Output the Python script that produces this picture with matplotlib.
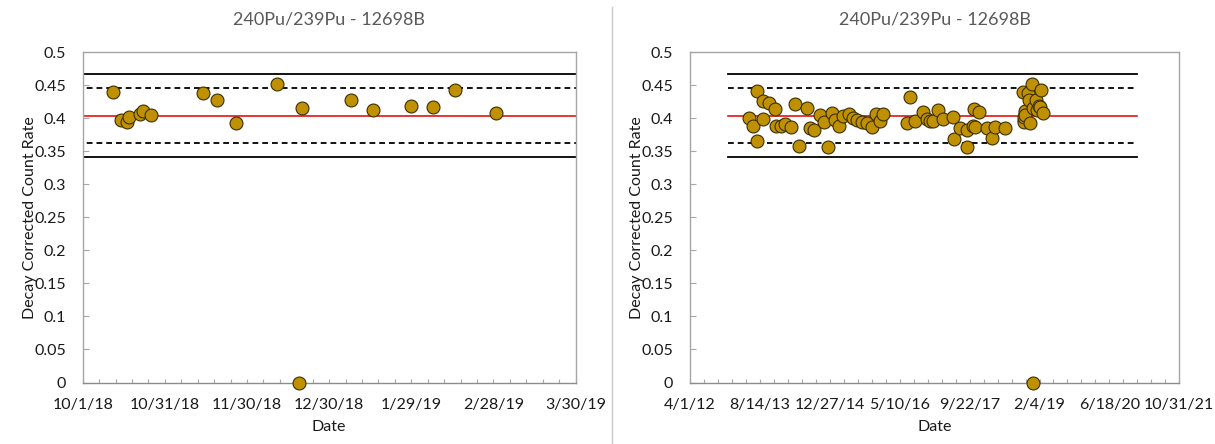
import datetime as dt
import matplotlib
matplotlib.use("Agg")
import matplotlib.pyplot as plt
import matplotlib.dates as mdates
from matplotlib.lines import Line2D
from matplotlib.ticker import FixedLocator, FuncFormatter

plt.rcParams['font.family'] = ['Lato', 'DejaVu Sans']

TITLE = "240Pu/239Pu - 12698B"
Y_LABEL = "Decay Corrected Count Rate"
X_LABEL = "Date"

# Recent measurements (Oct 2018 - Mar 2019)
recent_dates = [
    "2018-10-12", "2018-10-15", "2018-10-17", "2018-10-18", "2018-10-22",
    "2018-10-23", "2018-10-26", "2018-11-14", "2018-11-19", "2018-11-26",
    "2018-12-11", "2018-12-19", "2018-12-20", "2019-01-07", "2019-01-15",
    "2019-01-29", "2019-02-06", "2019-02-14", "2019-03-01",
]
recent_values = [
    0.4395, 0.3973, 0.3942, 0.4023, 0.4068,
    0.4118, 0.4058, 0.4386, 0.4276, 0.3927,
    0.4518, 0.0, 0.4164, 0.4276, 0.4124,
    0.4185, 0.4170, 0.4427, 0.4083,
]

# Historical measurements (2013 - mid 2018)
history_dates = [
    "2013-05-28", "2013-06-23", "2013-07-22", "2013-07-27", "2013-09-07",
    "2013-09-03", "2013-10-18", "2013-11-30", "2013-12-07", "2014-01-10",
    "2014-02-10", "2014-03-24", "2014-04-22", "2014-05-23", "2014-07-15",
    "2014-08-07", "2014-09-07", "2014-10-18", "2014-11-18", "2014-12-17",
    "2015-01-09", "2015-02-02", "2015-03-05", "2015-04-03", "2015-05-16",
    "2015-06-13", "2015-07-08", "2015-08-13", "2015-09-17", "2015-10-23",
    "2015-11-20", "2015-12-21", "2016-01-14", "2016-06-29", "2016-07-23",
    "2016-08-27", "2016-10-21", "2016-11-19", "2016-12-13", "2017-01-06",
    "2017-02-10", "2017-03-18", "2017-05-29", "2017-06-05", "2017-07-15",
    "2017-09-01", "2017-09-03", "2017-10-23", "2017-11-30", "2017-10-19",
    "2017-10-31", "2018-01-22", "2018-02-27", "2018-03-23", "2018-06-02",
]
history_values = [
    0.4003, 0.3886, 0.4421, 0.3655, 0.3992,
    0.4255, 0.4230, 0.4144, 0.3886, 0.3886,
    0.3912, 0.3876, 0.4215, 0.3583, 0.4155,
    0.3852, 0.3826, 0.4053, 0.3952, 0.3564,
    0.4079, 0.3977, 0.3886, 0.4038, 0.4068,
    0.4012, 0.3977, 0.3952, 0.3927, 0.3867,
    0.4068, 0.3962, 0.4068, 0.3936, 0.4321,
    0.3962, 0.4103, 0.3988, 0.3962, 0.3962,
    0.4129, 0.3988, 0.4018, 0.3689, 0.3852,
    0.3826, 0.3573, 0.4139, 0.4098, 0.3886,
    0.3867, 0.3852, 0.3700, 0.3867, 0.3852,
]

# Control limits
limit_span = ["2013-01-01", "2021-01-01"]
mean_level = 0.4042
warn_upper, warn_lower = 0.4464, 0.3620
ctrl_upper, ctrl_lower = 0.4675, 0.3409

y_ticks = [0, 0.05, 0.1, 0.15, 0.2, 0.25, 0.3, 0.35, 0.4, 0.45, 0.5]


def to_dt(s):
    return dt.datetime.strptime(s, "%Y-%m-%d")


def fmt_date(x, pos=None):
    d = mdates.num2date(x)
    return f"{d.month}/{d.day}/{d.year % 100:02d}"


def fmt_y(v, pos=None):
    return f"{v:g}"


W, H = 1215, 444
fig = plt.figure(figsize=(W / 100, H / 100), dpi=100)
fig.patch.set_facecolor("white")

TEXT = "#1A1A1A"
SPINE = "#A6A6A6"
GOLD = "#BF9000"
FS = 11.5


def build(ax, dates, values, x_start, major_days, n_major, minor_days):
    span = [to_dt(s) for s in limit_span]
    ax.plot(span, [ctrl_upper] * 2, color="black", lw=1.3, zorder=2)
    ax.plot(span, [ctrl_lower] * 2, color="black", lw=1.3, zorder=2)
    ax.plot(span, [warn_upper] * 2, color="black", lw=1.3,
            linestyle=(0, (3.2, 2.2)), zorder=2)
    ax.plot(span, [warn_lower] * 2, color="black", lw=1.3,
            linestyle=(0, (3.2, 2.2)), zorder=2)
    ax.plot(span, [mean_level] * 2, color="#E00000", lw=1.1, zorder=2)

    ax.plot([to_dt(s) for s in dates], values, linestyle="none", marker="o",
            ms=9.3, mfc=GOLD, mec="#3B2E00", mew=0.8, zorder=5, clip_on=False)

    x0 = to_dt(x_start)
    majors = [x0 + dt.timedelta(days=major_days * i) for i in range(n_major + 1)]
    ax.set_xlim(majors[0], majors[-1])
    ax.set_ylim(0, 0.5)
    ax.xaxis.set_major_locator(FixedLocator(mdates.date2num(majors)))
    n_minor = major_days * n_major // minor_days
    minors = [x0 + dt.timedelta(days=minor_days * i) for i in range(n_minor + 1)]
    ax.xaxis.set_minor_locator(FixedLocator(mdates.date2num(minors)))
    ax.xaxis.set_major_formatter(FuncFormatter(fmt_date))
    ax.yaxis.set_major_locator(FixedLocator(y_ticks))
    ax.yaxis.set_major_formatter(FuncFormatter(fmt_y))

    ax.tick_params(axis="x", which="both", direction="in", length=3,
                   width=0.8, color=SPINE, labelsize=FS, labelcolor=TEXT, pad=11)
    ax.tick_params(axis="y", which="major", direction="in", length=4,
                   width=0.8, color=SPINE, labelsize=FS, labelcolor=TEXT, pad=12)
    for sp in ax.spines.values():
        sp.set_color(SPINE)
        sp.set_linewidth(1.0)
    ax.spines["bottom"].set_color("#8C8C8C")

    ax.set_title(TITLE, fontsize=13, color="#595959", pad=20)
    ax.set_xlabel(X_LABEL, fontsize=FS, color=TEXT, labelpad=6)
    ax.set_ylabel(Y_LABEL, fontsize=FS, color=TEXT, labelpad=-2)


bottom = (H - 382.5) / H
height = (382.5 - 52.3) / H

ax_left = fig.add_axes([82.7 / W, bottom, (575.5 - 82.7) / W, height])
build(ax_left, recent_dates, recent_values, "2018-10-01", 30, 6, 6)

ax_right = fig.add_axes([690 / W, bottom, (1179.3 - 690) / W, height])
build(ax_right, history_dates + recent_dates, history_values + recent_values,
      "2012-04-01", 500, 7, 100)

# Border between the two chart panels
fig.add_artist(Line2D([611.5 / W] * 2, [0, 1 - 7 / H], color="#C8C8C8", lw=1.0))

fig.savefig("out.png", dpi=100)
